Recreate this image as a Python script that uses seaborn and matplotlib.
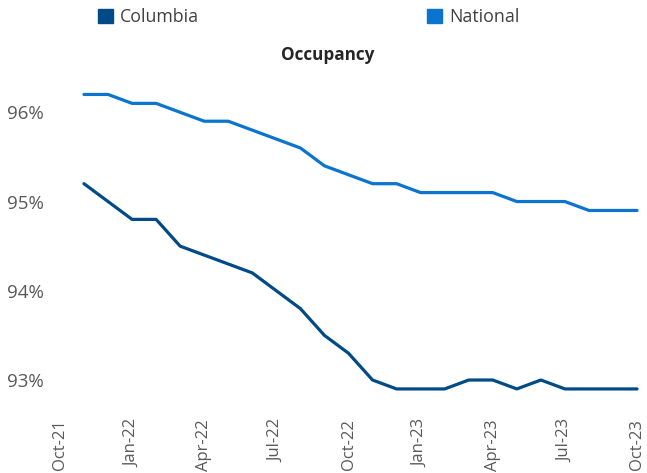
import numpy as np
import pandas as pd
import matplotlib
matplotlib.use("Agg")
import matplotlib.pyplot as plt
import matplotlib.patches as mpatches
import seaborn as sns

# monthly values, Nov-21 .. Oct-23 (month index 1..24, Oct-21 = 0)
months = list(range(1, 25))
columbia = [95.2, 95.0, 94.8, 94.8, 94.5, 94.4, 94.3, 94.2, 94.0, 93.8, 93.5, 93.3,
            93.0, 92.9, 92.9, 92.9, 93.0, 93.0, 92.9, 93.0, 92.9, 92.9, 92.9, 92.9]
national = [96.2, 96.2, 96.1, 96.1, 96.0, 95.9, 95.9, 95.8, 95.7, 95.6, 95.4, 95.3,
            95.2, 95.2, 95.1, 95.1, 95.1, 95.1, 95.0, 95.0, 95.0, 94.9, 94.9, 94.9]
tick_pos = [0, 3, 6, 9, 12, 15, 18, 21, 24]
tick_labels = ["Oct-21", "Jan-22", "Apr-22", "Jul-22", "Oct-22",
               "Jan-23", "Apr-23", "Jul-23", "Oct-23"]
y_ticks = [93, 94, 95, 96]

colors = {"Columbia": "#004A87", "National": "#0A74CF"}

df = pd.DataFrame({
    "month": months * 2,
    "value": columbia + national,
    "series": ["Columbia"] * len(months) + ["National"] * len(months),
})

sns.set_style("white")
plt.rcParams["font.family"] = ["Open Sans", "DejaVu Sans"]

W, H = 647, 473
fig = plt.figure(figsize=(W / 100, H / 100), dpi=100)
ax = fig.add_axes([52 / W, 1 - 405 / H, 593 / W, 340 / H])

sns.lineplot(data=df, x="month", y="value", hue="series", palette=colors,
             linewidth=2.3, ax=ax, legend=False)

ax.set_xlim(-0.33, 24.33)
ax.set_ylim(92.72, 96.53)
ax.set_xticks(tick_pos)
ax.set_xticklabels(tick_labels, rotation=90)
ax.set_xticks(range(0, 25), minor=True)
ax.set_yticks(y_ticks)
ax.set_yticklabels([f"{v}%" for v in y_ticks])
ax.set_xlabel("")
ax.set_ylabel("")
for s in ax.spines.values():
    s.set_visible(False)
ax.tick_params(axis="both", which="both", colors="#E3E3E3", labelcolor="#595959",
               length=4, width=1)
ax.tick_params(axis="x", labelsize=12, pad=6)
ax.tick_params(axis="y", labelsize=13.5, pad=2)

fig.text(328 / W, 1 - 55 / H, "Occupancy", ha="center", va="center",
         fontsize=12.3, fontweight="bold", color="#262626")

handles = [mpatches.Patch(color=colors[k], label=k) for k in ["Columbia", "National"]]
leg = fig.legend(handles=handles, loc="center left", bbox_to_anchor=(82 / W, 1 - 17 / H),
                 ncol=2, frameon=False, fontsize=12.8, handlelength=0.85, handleheight=0.85,
                 handletextpad=0.4, columnspacing=12.8, labelcolor="#404040")

fig.savefig("out.png", dpi=100)
